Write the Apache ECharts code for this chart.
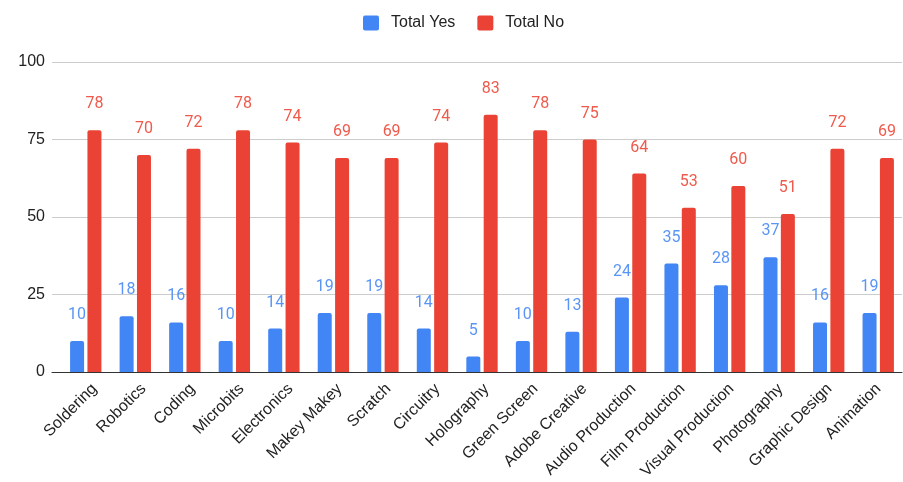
<!DOCTYPE html>
<html><head><meta charset="utf-8">
<script src="https://cdn.jsdelivr.net/npm/echarts@6/dist/echarts.min.js"></script>
<style>html,body{margin:0;padding:0;background:#fff}#c{width:903px;height:482px}</style>
</head><body><div id="c"></div>
<script>
const categories = ["Soldering","Robotics","Coding","Microbits","Electronics","Makey Makey","Scratch","Circuitry","Holography","Green Screen","Adobe Creative","Audio Production","Film Production","Visual Production","Photography","Graphic Design","Animation"];
const totalYes = [10,18,16,10,14,19,19,14,5,10,13,24,35,28,37,16,19];
const totalNo = [78,70,72,78,74,69,69,74,83,78,75,64,53,60,51,72,69];
const yTicks = [0,25,50,75,100];

const chart = echarts.init(document.getElementById('c'), null, {renderer:'canvas'});
const font = 'Arial, "Liberation Sans", sans-serif';
const lblFont = 'Roboto, Arial, sans-serif';
chart.setOption({
  animation:false,
  legend:{top:10,left:358,itemWidth:16,itemHeight:15,itemGap:22,
    textStyle:{fontFamily:font,fontSize:16,color:'#222',padding:[0,0,0,7]},
    data:['Total Yes','Total No'], icon:'path://M2,0 L14,0 Q16,0 16,2 L16,13 Q16,15 14,15 L2,15 Q0,15 0,13 L0,2 Q0,0 2,0 Z'},
  grid:[{left:52,right:1,top:62,bottom:110},{left:61,right:0,top:62,bottom:110},{left:70,right:-12,top:62,bottom:110}],
  xAxis:[
    {gridIndex:0,type:'category',data:[''],axisLine:{show:true,lineStyle:{color:'#333',width:1}},axisTick:{show:false},axisLabel:{show:false}},
    {gridIndex:1,type:'category',data:categories,axisLine:{show:false},axisTick:{show:false},axisLabel:{show:false}},
    {gridIndex:2,type:'category',data:categories,axisLine:{show:false},axisTick:{show:false},
      axisLabel:{interval:0,rotate:45,fontFamily:font,fontSize:16,color:'#222',margin:18}}
  ],
  yAxis:[
    {gridIndex:0,type:'value',min:yTicks[0],max:yTicks[yTicks.length-1],interval:25,
      axisLine:{show:false},axisTick:{show:false},
      axisLabel:{fontFamily:font,fontSize:16,color:'#222',margin:7},
      splitLine:{lineStyle:{color:'#ccc',width:1}}},
    {gridIndex:1,type:'value',min:0,max:100,interval:25,show:false,splitLine:{show:false}},
    {gridIndex:2,type:'value',min:0,max:100,interval:25,show:false,splitLine:{show:false}}
  ],
  series:[
    {name:'Total Yes',type:'bar',xAxisIndex:1,yAxisIndex:1,data:totalYes,barWidth:14,barGap:'24%',
      itemStyle:{color:'#4285f4',borderRadius:[2,2,0,0]},
      label:{show:true,position:'top',distance:18,fontFamily:lblFont,fontSize:16,color:'#5a95f5'}},
    {name:'Total No',type:'bar',xAxisIndex:1,yAxisIndex:1,data:totalNo,barWidth:14,
      itemStyle:{color:'#ea4335',borderRadius:[2,2,0,0]},
      label:{show:true,position:'top',distance:18,fontFamily:lblFont,fontSize:16,color:'#ee5a4c'}}
  ]
});
</script></body></html>
